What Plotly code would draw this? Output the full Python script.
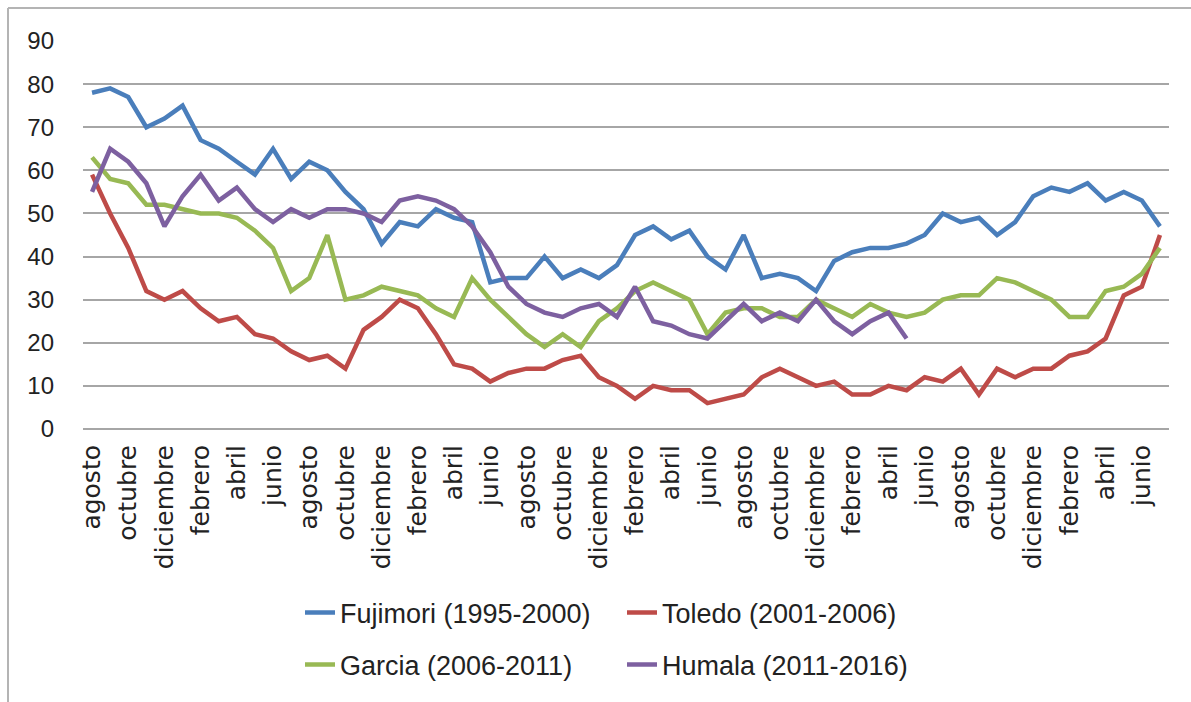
import plotly.graph_objects as go

# ---- data ----
month_cycle = ["agosto", "septiembre", "octubre", "noviembre", "diciembre", "enero",
               "febrero", "marzo", "abril", "mayo", "junio", "julio"]
months = month_cycle * 5  # 60 months of a presidential term

fujimori = [78, 79, 77, 70, 72, 75, 67, 65, 62, 59, 65, 58, 62, 60, 55, 51, 43, 48, 47, 51,
            49, 48, 34, 35, 35, 40, 35, 37, 35, 38, 45, 47, 44, 46, 40, 37, 45, 35, 36, 35,
            32, 39, 41, 42, 42, 43, 45, 50, 48, 49, 45, 48, 54, 56, 55, 57, 53, 55, 53, 47]
toledo = [59, 50, 42, 32, 30, 32, 28, 25, 26, 22, 21, 18, 16, 17, 14, 23, 26, 30, 28, 22,
          15, 14, 11, 13, 14, 14, 16, 17, 12, 10, 7, 10, 9, 9, 6, 7, 8, 12, 14, 12,
          10, 11, 8, 8, 10, 9, 12, 11, 14, 8, 14, 12, 14, 14, 17, 18, 21, 31, 33, 45]
garcia = [63, 58, 57, 52, 52, 51, 50, 50, 49, 46, 42, 32, 35, 45, 30, 31, 33, 32, 31, 28,
          26, 35, 30, 26, 22, 19, 22, 19, 25, 28, 32, 34, 32, 30, 22, 27, 28, 28, 26, 26,
          30, 28, 26, 29, 27, 26, 27, 30, 31, 31, 35, 34, 32, 30, 26, 26, 32, 33, 36, 42]
humala = [55, 65, 62, 57, 47, 54, 59, 53, 56, 51, 48, 51, 49, 51, 51, 50, 48, 53, 54, 53,
          51, 47, 41, 33, 29, 27, 26, 28, 29, 26, 33, 25, 24, 22, 21, 25, 29, 25, 27, 25,
          30, 25, 22, 25, 27, 21]

series_names = ["Fujimori (1995-2000)", "Toledo (2001-2006)",
                "Garcia (2006-2011)", "Humala (2011-2016)"]
series_values = [fujimori, toledo, garcia, humala]
series_colors = ["#4A7EBB", "#BE4B48", "#98B954", "#7D60A0"]
legend_ids = ["legend", "legend", "legend2", "legend2"]

x_index = list(range(len(months)))
tick_positions = x_index[::2]
tick_labels = months[::2]

# ---- figure ----
W, H = 1191, 702
L, R, T, B = 83, 22, 41, 273
plot_w = W - L - R
plot_h = H - T - B

fig = go.Figure()
for name, vals, col, lg in zip(series_names, series_values, series_colors, legend_ids):
    fig.add_trace(go.Scatter(
        x=x_index[:len(vals)], y=vals, mode="lines", name=name,
        line=dict(color=col, width=4.5), legend=lg,
    ))

def px_x(p):
    return (p - L) / plot_w

def px_y(p):
    return (H - B - p) / plot_h

legend_font = dict(family="Liberation Sans Narrow, Arial Narrow, Liberation Sans", size=27, color="#222222")
legend_common = dict(orientation="h", xref="container", yref="container",
                     xanchor="left", yanchor="middle", font=legend_font,
                     bgcolor="rgba(0,0,0,0)", entrywidth=277, entrywidthmode="pixels",
                     itemwidth=30, tracegroupgap=0)

fig.update_layout(
    width=W, height=H,
    margin=dict(l=L, r=R, t=T, b=B, pad=0),
    paper_bgcolor="white", plot_bgcolor="white",
    showlegend=True,
    legend=dict(x=300 / W, y=1 - 613 / H, **legend_common),
    legend2=dict(x=300 / W, y=1 - 665 / H, **legend_common),
    xaxis=dict(
        range=[-0.5, len(months) - 0.5],
        tickmode="array", tickvals=tick_positions, ticktext=tick_labels,
        tickangle=-90, showgrid=False, zeroline=False, showline=False,
        ticks="", ticklabelstandoff=10,
        tickfont=dict(family="DejaVu Sans", size=25, color="#222222"),
    ),
    yaxis=dict(
        range=[0, 90], dtick=10, tick0=0,
        showgrid=True, gridcolor="#A6A6A6", gridwidth=1.5,
        zeroline=True, zerolinecolor="#A6A6A6", zerolinewidth=1.5,
        showline=False, ticks="", ticklabelstandoff=28,
        tickfont=dict(family="Liberation Sans, Arial", size=24, color="#222222"),
    ),
    shapes=[
        dict(type="line", xref="paper", yref="paper",
             x0=px_x(8), x1=px_x(W), y0=px_y(8), y1=px_y(8),
             line=dict(color="#B4B4B4", width=2)),
        dict(type="line", xref="paper", yref="paper",
             x0=px_x(8), x1=px_x(8), y0=px_y(8), y1=px_y(H),
             line=dict(color="#B4B4B4", width=2)),
    ],
)

fig.write_html(
    "out.html",
    config={"displayModeBar": False},
    post_script="document.body.style.margin='0px';document.body.style.overflow='hidden';",
)
